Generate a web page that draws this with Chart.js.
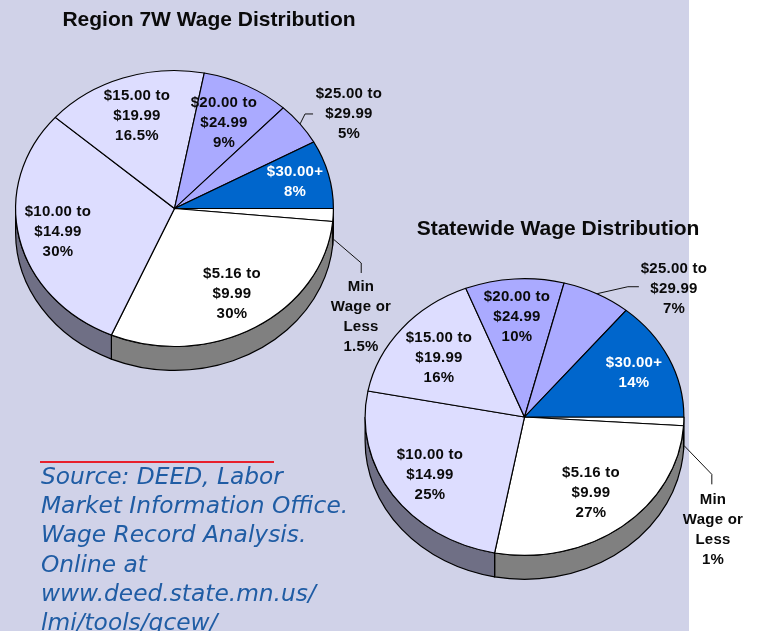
<!DOCTYPE html>
<html>
<head>
<meta charset="utf-8">
<script src="https://cdn.jsdelivr.net/npm/chart.js@4"></script>
<style>
    html, body { margin: 0; padding: 0; background: #fff; }
    #page { position: relative; width: 757px; height: 631px; overflow: hidden; }
    #panel { position: absolute; left: 0; top: 0; width: 689px; height: 631px; background: #d0d2e8; }
    canvas { position: absolute; left: 0; top: 0; }
    .title { position: absolute; transform: translateX(-50%); white-space: nowrap; font: bold 21px "Liberation Sans", Arial, sans-serif; color: #0a0a0a; }
    .lbl { position: absolute; transform: translateX(-50%); text-align: center; white-space: nowrap; font: bold 15px/20px "Liberation Sans", Arial, sans-serif; letter-spacing: .25px; color: #0a0a0a; }
    #rule { position: absolute; left: 40px; top: 461px; width: 234px; height: 2px; background: #e8202c; }
    #source { position: absolute; left: 41px; top: 461px; white-space: nowrap; font: oblique 200 23.3px/29.2px "DejaVu Sans", sans-serif; color: #1f5ca4; }
</style>
</head>
<body>
<div id="page">
    <div id="panel"></div>
    <canvas id="regionPie" width="757" height="631"></canvas>
    <canvas id="statePie" width="757" height="631"></canvas>
    <div id="rule"></div>
    <div id="source"></div>
</div>
<script>
// clockwise starting from 3 o'clock, same order in both pies
const wageBands = ["Min Wage or Less", "$5.16 to $9.99", "$10.00 to $14.99", "$15.00 to $19.99", "$20.00 to $24.99", "$25.00 to $29.99", "$30.00+"];
const bandLines = [["Min", "Wage or", "Less"], ["$5.16 to", "$9.99"], ["$10.00 to", "$14.99"], ["$15.00 to", "$19.99"], ["$20.00 to", "$24.99"], ["$25.00 to", "$29.99"], ["$30.00+"]];
const regionShares = [1.5, 30, 30, 16.5, 9, 5, 8];
const stateShares = [1, 27, 25, 16, 10, 7, 14];
const sourceLines = ["Source: DEED, Labor", "Market Information Office.", "Wage Record Analysis.", "Online at", "www.deed.state.mn.us/", "lmi/tools/qcew/"];

const topColors = ["#ffffff", "#ffffff", "#ddddff", "#ddddff", "#aaaaff", "#aaaaff", "#0066cc"];
const sideColors = ["#808080", "#808080", "#6f6f85", "#6f6f85", "#55557f", "#55557f", "#003366"];
const squash = 0.868;
const depth = 24;

// where each text block sits on the page [center x, top y]
const regionLabelPos = [[361, 276], [232, 263], [58, 201], [137, 85], [224, 92], [349, 83], [295, 161]];
const stateLabelPos = [[713, 489], [591, 462], [430, 444], [439, 327], [517, 286], [674, 258], [634, 352]];

const pie3d = {
    id: "pie3d",
    beforeDatasetsDraw(chart) {
        const ctx = chart.ctx;
        const arcs = chart.getDatasetMeta(0).data;
        const cx = arcs[0].x;
        const cy = arcs[0].y;
        ctx.save();
        ctx.lineWidth = 1.2;
        ctx.strokeStyle = "#000";
        // rim, only the part of each slice facing the viewer
        arcs.forEach((arc, i) => {
            const a1 = Math.max(arc.startAngle, 0);
            const a2 = Math.min(arc.endAngle, Math.PI);
            if (a2 <= a1) return;
            const rx = arc.outerRadius;
            const ry = rx * squash;
            ctx.beginPath();
            ctx.ellipse(cx, cy, rx, ry, 0, a1, a2);
            ctx.ellipse(cx, cy + depth, rx, ry, 0, a2, a1, true);
            ctx.closePath();
            ctx.fillStyle = sideColors[i];
            ctx.fill();
            ctx.stroke();
        });
        ctx.restore();
        // flatten the top of the pie
        ctx.save();
        ctx.translate(cx, cy);
        ctx.scale(1, squash);
        ctx.translate(-cx, -cy);
    },
    afterDatasetsDraw(chart, args, opts) {
        const ctx = chart.ctx;
        ctx.restore();
        const arcs = chart.getDatasetMeta(0).data;
        ctx.save();
        ctx.lineWidth = 1;
        ctx.strokeStyle = "#111";
        opts.leaders.forEach(l => {
            const arc = arcs[l.slice];
            const mid = (arc.startAngle + arc.endAngle) / 2;
            const x = arc.x + arc.outerRadius * Math.cos(mid);
            const y = arc.y + arc.outerRadius * squash * Math.sin(mid) + (l.fromRim ? depth : 0);
            ctx.beginPath();
            ctx.moveTo(x, y);
            ctx.lineTo(x + l.elbow[0], y + l.elbow[1]);
            ctx.lineTo(x + l.elbow[0] + l.tail[0], y + l.elbow[1] + l.tail[1]);
            ctx.stroke();
        });
        ctx.restore();
    }
};

function makePie(id, shares, padding, leaders) {
    return new Chart(id, {
        type: "pie",
        plugins: [pie3d],
        data: {
            labels: wageBands,
            datasets: [{
                data: shares,
                backgroundColor: topColors,
                borderColor: "#000",
                borderWidth: 1.2,
                clip: false
            }]
        },
        options: {
            responsive: false,
            animation: false,
            rotation: 90,
            layout: { padding: padding },
            plugins: {
                legend: { display: false },
                tooltip: { enabled: false },
                pie3d: { leaders: leaders }
            }
        }
    });
}

makePie("regionPie", regionShares, { left: 15, right: 423, top: 49, bottom: 263 }, [
    { slice: 5, elbow: [5, -10], tail: [8, 0], fromRim: false },
    { slice: 0, elbow: [28, 24], tail: [0, 10], fromRim: true }
]);
makePie("statePie", stateShares, { left: 364, right: 72, top: 257, bottom: 54 }, [
    { slice: 5, elbow: [31, -7], tail: [11, 0], fromRim: false },
    { slice: 0, elbow: [28, 29], tail: [0, 10], fromRim: true }
]);

const page = document.getElementById("page");

function addTitle(text, x, y) {
    const d = document.createElement("div");
    d.className = "title";
    d.textContent = text;
    d.style.left = x + "px";
    d.style.top = y + "px";
    page.appendChild(d);
}

function addLabels(shares, positions) {
    bandLines.forEach((lines, i) => {
        const d = document.createElement("div");
        d.className = "lbl";
        d.innerHTML = lines.concat(shares[i] + "%").join("<br>");
        d.style.left = positions[i][0] + "px";
        d.style.top = positions[i][1] + "px";
        if (i === bandLines.length - 1) d.style.color = "#fff";
        page.appendChild(d);
    });
}

addTitle("Region 7W Wage Distribution", 209, 7);
addTitle("Statewide Wage Distribution", 558, 216);
addLabels(regionShares, regionLabelPos);
addLabels(stateShares, stateLabelPos);
document.getElementById("source").innerHTML = sourceLines.join("<br>");
</script>
</body>
</html>
